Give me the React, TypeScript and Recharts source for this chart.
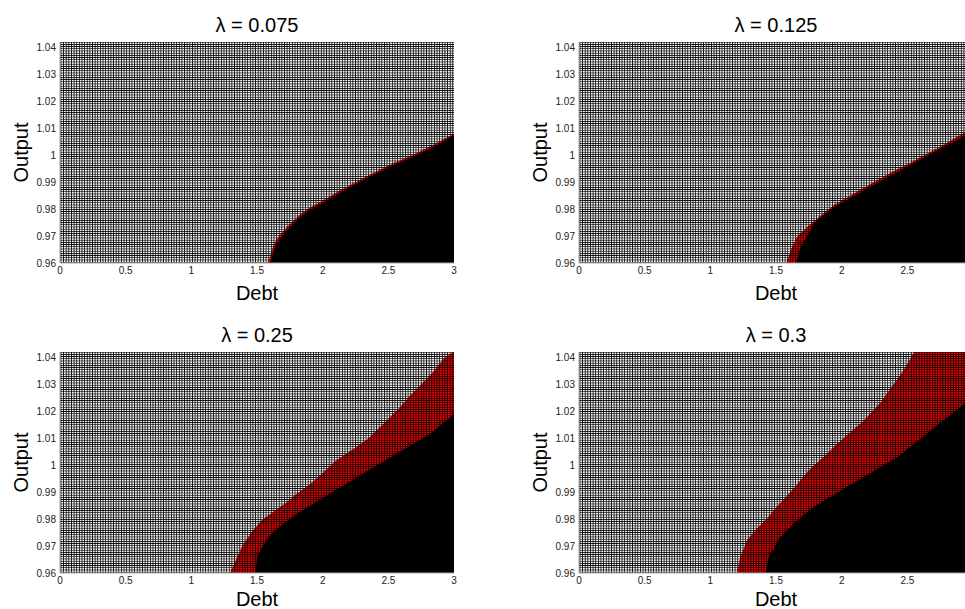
import React from 'react';
import { ComposedChart, Area, XAxis, YAxis, ReferenceArea, Label } from 'recharts';

// tick labels
const debtTicks = [0, 0.5, 1, 1.5, 2, 2.5, 3];
const debtTicksCropped = [0, 0.5, 1, 1.5, 2, 2.5];
const outputTicks = [0.96, 0.97, 0.98, 0.99, 1, 1.01, 1.02, 1.03, 1.04];
const lambdas = ['0.075', '0.125', '0.25', '0.3'];

// lambda = 0.075
const p1RedDebt = [1.585, 1.625, 1.665, 1.74, 1.82, 1.89, 1.99, 2.12, 2.3, 2.5, 2.71, 2.86, 3.0];
const p1RedTop = [0.96, 0.9666, 0.9699, 0.9739, 0.9776, 0.9802, 0.9828, 0.9866, 0.9913, 0.9962, 1.0006, 1.0043, 1.008];
const p1BlackDebt = [1.6, 1.64, 1.68, 1.75, 1.83, 1.9, 2.0, 2.13, 2.31, 2.51, 2.72, 2.87, 3.0];
const p1BlackTop = [0.96, 0.966, 0.9693, 0.9733, 0.977, 0.9796, 0.9822, 0.986, 0.9907, 0.9956, 1.0, 1.0037, 1.0074];

// lambda = 0.125
const p2RedDebt = [1.58, 1.616, 1.662, 1.738, 1.815, 1.942, 2.145, 2.349, 2.552, 2.756, 2.934, 3.0];
const p2RedTop = [0.96, 0.9654, 0.9698, 0.9734, 0.9766, 0.9815, 0.9873, 0.9928, 0.9979, 1.0033, 1.0083, 1.0098];
const p2BlackDebt = [1.65, 1.69, 1.79, 1.94, 2.15, 2.35, 2.55, 2.76, 2.95, 3.0];
const p2BlackTop = [0.96, 0.966, 0.9748, 0.9807, 0.9863, 0.9918, 0.997, 1.0026, 1.0074, 1.0087];

// lambda = 0.25
const p3RedDebt = [1.295, 1.384, 1.46, 1.536, 1.625, 1.714, 1.79, 1.879, 1.955, 2.03, 2.107, 2.26, 2.348, 2.437, 2.59, 2.666, 2.742, 2.831, 2.919, 2.995, 3.0];
const p3RedTop = [0.96, 0.9697, 0.9753, 0.9796, 0.9827, 0.9858, 0.9889, 0.992, 0.9951, 0.9985, 1.0019, 1.0068, 1.0099, 1.0142, 1.0216, 1.0259, 1.0296, 1.034, 1.0395, 1.042, 1.042];
const p3BlackDebt = [1.49, 1.5, 1.55, 1.6, 1.68, 1.8, 1.929, 2.056, 2.183, 2.31, 2.437, 2.564, 2.691, 2.818, 2.945, 3.0];
const p3BlackTop = [0.96, 0.966, 0.9705, 0.974, 0.9775, 0.9818, 0.9858, 0.9895, 0.9932, 0.9969, 1.0006, 1.0043, 1.008, 1.0117, 1.0167, 1.0191];

// lambda = 0.3
const p4RedDebt = [1.204, 1.224, 1.28, 1.356, 1.433, 1.496, 1.611, 1.687, 1.75, 1.891, 1.967, 2.082, 2.158, 2.298, 2.361, 2.437, 2.502, 2.552, 3.0];
const p4RedTop = [0.96, 0.9654, 0.9722, 0.9766, 0.9803, 0.984, 0.9901, 0.9944, 0.9981, 1.0043, 1.008, 1.013, 1.016, 1.0234, 1.0278, 1.0327, 1.0377, 1.042, 1.042];
const p4BlackDebt = [1.42, 1.445, 1.534, 1.662, 1.789, 1.916, 2.043, 2.17, 2.298, 2.425, 2.552, 2.68, 2.807, 2.947, 3.0];
const p4BlackTop = [0.96, 0.966, 0.9734, 0.9796, 0.9846, 0.9883, 0.992, 0.9957, 0.9994, 1.0031, 1.008, 1.013, 1.0179, 1.0234, 1.0255];

const zip = (xs: number[], ys: number[]) => xs.map((x, i) => ({ debt: x, output: ys[i] }));

const panels = [
  { red: zip(p1RedDebt, p1RedTop), black: zip(p1BlackDebt, p1BlackTop), ticks: debtTicks, left: 0, top: 0, labelOffset: 5 },
  { red: zip(p2RedDebt, p2RedTop), black: zip(p2BlackDebt, p2BlackTop), ticks: debtTicksCropped, left: 519, top: 0, labelOffset: 5 },
  { red: zip(p3RedDebt, p3RedTop), black: zip(p3BlackDebt, p3BlackTop), ticks: debtTicks, left: 0, top: 310, labelOffset: 9 },
  { red: zip(p4RedDebt, p4RedTop), black: zip(p4BlackDebt, p4BlackTop), ticks: debtTicksCropped, left: 519, top: 310, labelOffset: 9 },
];

const FONT = '"Liberation Sans", Arial, sans-serif';
const Y_MIN = 0.96;
const Y_MAX = 1.042;

function OutputLabel(props: any) {
  const vb = props.viewBox || { x: 10, y: 42, width: 50, height: 221 };
  const cx = vb.x + 18;
  const cy = vb.y + vb.height / 2;
  return (
    <text x={cx} y={cy} transform={`rotate(-90 ${cx} ${cy})`} textAnchor="middle"
      fontSize={20} fontFamily={FONT} fill="#000">
      Output
    </text>
  );
}

function Panel({ idx }: { idx: number }) {
  const p = panels[idx];
  const meshId = `mesh${idx}`;
  return (
    <div style={{ position: 'absolute', left: p.left, top: p.top }}>
      <div style={{
        position: 'absolute', left: 60, top: 15, width: 394, textAlign: 'center',
        fontSize: 20, lineHeight: '20px', fontFamily: FONT, color: '#000',
      }}>
        λ = {lambdas[idx]}
      </div>
      <ComposedChart width={482} height={305} margin={{ top: 42, right: 28, bottom: 0, left: 10 }}>
        <defs>
          {/* dense mesh lines of the pcolor grid */}
          <pattern id={meshId} patternUnits="userSpaceOnUse" width={2.63} height={2.2}>
            <rect x={0} y={0} width={0.8} height={2.2} fill="#000" />
            <rect x={0} y={0} width={2.63} height={0.75} fill="#000" />
          </pattern>
        </defs>
        <XAxis
          type="number"
          dataKey="debt"
          domain={[0, 3]}
          ticks={p.ticks}
          allowDataOverflow
          height={42}
          tickSize={0}
          tickMargin={4}
          tick={{ fontSize: 10, fill: '#222', fontFamily: FONT }}
          axisLine={{ stroke: '#aaa' }}
        >
          <Label value="Debt" position="insideBottom" offset={p.labelOffset} fontSize={20} fill="#000" fontFamily={FONT} />
        </XAxis>
        <YAxis
          type="number"
          domain={[Y_MIN, Y_MAX]}
          ticks={outputTicks}
          allowDataOverflow
          width={50}
          tickSize={0}
          tickMargin={4}
          tick={{ fontSize: 10, fill: '#222', fontFamily: FONT }}
          axisLine={{ stroke: '#aaa' }}
        >
          <Label content={OutputLabel} />
        </YAxis>
        <Area
          data={p.red}
          dataKey="output"
          type="linear"
          baseValue={Y_MIN}
          fill="#ff0000"
          fillOpacity={1}
          stroke="none"
          isAnimationActive={false}
        />
        <Area
          data={p.black}
          dataKey="output"
          type="linear"
          baseValue={Y_MIN}
          fill="#000"
          fillOpacity={1}
          stroke="none"
          isAnimationActive={false}
        />
        <ReferenceArea x1={0} x2={3} y1={Y_MIN} y2={Y_MAX} fill={`url(#${meshId})`} fillOpacity={1} stroke="none" />
      </ComposedChart>
    </div>
  );
}

export default function App() {
  return (
    <div style={{ position: 'absolute', left: 0, top: 0, width: 965, height: 609, overflow: 'hidden', background: '#fff' }}>
      {panels.map((_, i) => <Panel key={i} idx={i} />)}
    </div>
  );
}
